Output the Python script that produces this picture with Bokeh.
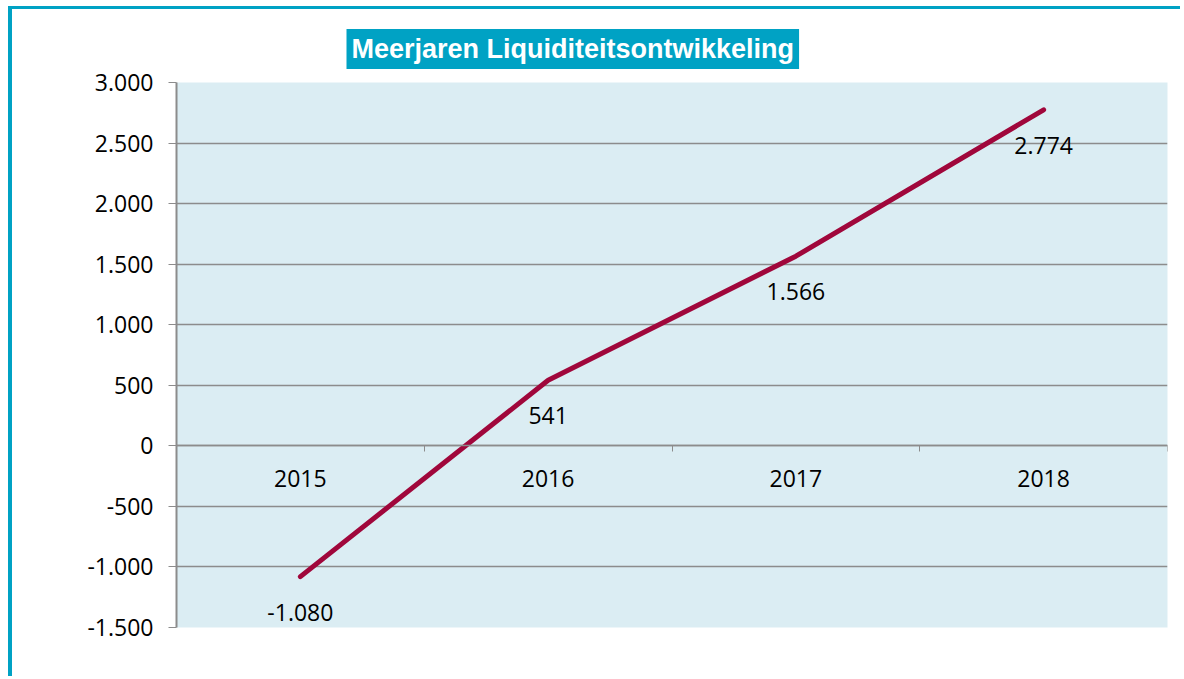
from bokeh.plotting import figure
from bokeh.models import FixedTicker, Title, ColumnDataSource
from bokeh.core.properties import value
from bokeh.embed import file_html
from bokeh.resources import INLINE

# Data
years = ["2015", "2016", "2017", "2018"]
liquidity = [-1080, 541, 1566, 2774]
value_labels = ["-1.080", "541", "1.566", "2.774"]
y_ticks = [-1500, -1000, -500, 0, 500, 1000, 1500, 2000, 2500, 3000]
y_tick_labels = ["-1.500", "-1.000", "-500", "0", "500", "1.000", "1.500", "2.000", "2.500", "3.000"]
title_text = "Meerjaren Liquiditeitsontwikkeling"

TEAL = "#00A2C4"
GRID = "#8C8C8C"
LINE = "#A0073B"
FONT = "Open Sans"

xs = [i + 0.5 for i in range(len(years))]
src = ColumnDataSource(dict(x=xs, y=liquidity, lab=value_labels))

p = figure(width=1172, height=670, x_range=(0, len(years)), y_range=(y_ticks[0], y_ticks[-1]),
           output_backend="svg", toolbar_location=None,
           min_border_left=164, min_border_right=17, min_border_top=73, min_border_bottom=52,
           background_fill_color="#DBEDF3", border_fill_color="white", outline_line_color=None)
p.styles = {"margin-left": "8px", "margin-top": "6px",
            "border-left": f"4px solid {TEAL}", "border-top": f"3px solid {TEAL}"}

p.title = Title(text=title_text, align="left", offset=170, text_color="white",
                background_fill_color=TEAL, text_font="Liberation Sans", text_font_style="bold",
                text_font_size="27px", padding=5, standoff=27)

# Y axis
p.yaxis.ticker = FixedTicker(ticks=y_ticks, minor_ticks=[])
p.yaxis.major_label_overrides = {t: l for t, l in zip(y_ticks, y_tick_labels)}
p.yaxis.major_tick_out = 8
p.yaxis.major_tick_in = 0
p.yaxis.major_tick_line_color = GRID
p.yaxis.axis_line_color = GRID
p.yaxis.axis_line_width = 2
p.yaxis.major_label_standoff = 15
p.yaxis.major_label_text_font = FONT
p.yaxis.major_label_text_font_size = "23px"
p.yaxis.major_label_text_color = "black"

# X axis at zero
p.xaxis.fixed_location = 0
p.xaxis.ticker = FixedTicker(ticks=xs, minor_ticks=list(range(len(years) + 1)))
p.xaxis.major_label_overrides = {x: y for x, y in zip(xs, years)}
p.xaxis.major_tick_out = 0
p.xaxis.major_tick_in = 0
p.xaxis.minor_tick_out = 6
p.xaxis.minor_tick_in = 0
p.xaxis.minor_tick_line_color = GRID
p.xaxis.axis_line_color = GRID
p.xaxis.axis_line_width = 1.5
p.xaxis.major_label_standoff = 18
p.xaxis.major_label_text_font = FONT
p.xaxis.major_label_text_font_size = "23px"
p.xaxis.major_label_text_color = "black"

p.xgrid.visible = False
p.ygrid.grid_line_color = GRID
p.ygrid.grid_line_width = 1.5

p.line("x", "y", source=src, line_color=LINE, line_width=5, line_cap="round", line_join="round")
p.text("x", "y", text="lab", source=src, text_align="center", text_baseline="top",
       y_offset=27, text_font=value(FONT), text_font_size="23px", text_color="black")

open("out.html", "w").write(file_html(p, INLINE))
